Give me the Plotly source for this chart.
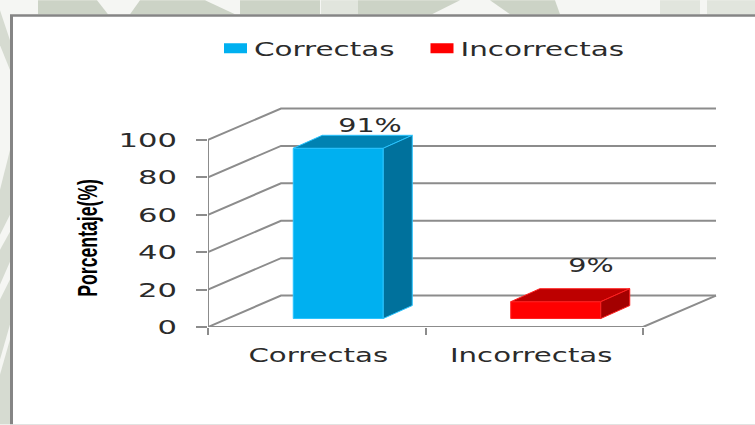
import plotly.graph_objects as go

# Chart data
categories = ['Correctas', 'Incorrectas']
values = [91, 9]
labels = ['91%', '9%']
bar_colors = ['#00b0f0', '#ff0000']
top_colors = ['#0082b2', '#bd0000']
side_colors = ['#00719c', '#a30000']
edge_colors = ['#29c4ff', '#ff2020']
y_ticks = [0, 20, 40, 60, 80, 100]
bar_slots = [0.5, 1.5]
x_label_pos = [0.507, 1.486]
x_bounds = [0, 1, 2]

# Fake 3D geometry, in axis units
W, H = 755, 425
L, R, T, B = 208, 718, 107, 327.5
X_UNIT = 217.5
Y_UNIT = 1.875
DEPTH_X = 73 / X_UNIT
DEPTH_Y = 31.5 / Y_UNIT
BAR_WIDTH = 90 / X_UNIT
BAR_SHIFT = 21.5 / X_UNIT
BAR_LIFT = 8.5 / Y_UNIT
SIDE_X = 29 / X_UNIT
SIDE_Y = 13 / Y_UNIT
WALL = '#8c8c8c'
TEXT = '#2b2b2b'

# Watermark patches behind the chart frame, in pixels
light_patches = [
    [(660, 0), (700, 0), (700, 14), (660, 14)],
    [(707, 0), (755, 0), (755, 14), (707, 14)],
    [(321, 0), (358, 0), (358, 14), (321, 14)],
]
green_patches = [
    [(38, 0), (97, 0), (108, 14), (38, 14)],
    [(140, 0), (205, 0), (235, 14), (130, 14)],
    [(240, 0), (320, 0), (320, 14), (240, 14)],
    [(358, 0), (460, 0), (432, 14), (358, 14)],
    [(490, 0), (555, 0), (560, 14), (510, 14)],
]
left_patches = [
    [(0, 10), (10, 40), (10, 70), (0, 45)],
    [(0, 190), (10, 150), (10, 215), (0, 235)],
    [(0, 250), (10, 232), (10, 262), (0, 285)],
    [(0, 300), (10, 280), (10, 325), (0, 360)],
    [(0, 375), (10, 340), (10, 425), (0, 425)],
]


# paper coords run over the plot area only, so map through the margins
def poly_px(points, color):
    pts = [((x - L) / (R - L), (B - y) / (B - T)) for x, y in points]
    path = 'M' + 'L'.join(f'{x},{y}' for x, y in pts) + 'Z'
    return dict(type='path', xref='paper', yref='paper', path=path,
                fillcolor=color, line_width=0, layer='below')


fig = go.Figure()

# Walls and floor
wall_x, wall_y = [], []
for v in y_ticks:
    wall_x += [0, DEPTH_X, 2 + DEPTH_X, None]
    wall_y += [v, v + DEPTH_Y, v + DEPTH_Y, None]
wall_x += [0, 2, 2 + DEPTH_X, None, 0, 0]
wall_y += [0, 0, DEPTH_Y, None, 0, y_ticks[-1]]
fig.add_trace(go.Scatter(x=wall_x, y=wall_y, mode='lines', showlegend=False,
                         hoverinfo='skip', line=dict(color=WALL, width=2), zorder=0))

# Bars with their top and side faces
for i, (name, v) in enumerate(zip(categories, values)):
    cx = bar_slots[i] + BAR_SHIFT
    x0, x1 = cx - BAR_WIDTH / 2, cx + BAR_WIDTH / 2
    y0, y1 = BAR_LIFT, BAR_LIFT + v
    fig.add_trace(go.Bar(x=[cx], y=[v], base=[BAR_LIFT], width=BAR_WIDTH, showlegend=False,
                         marker=dict(color=bar_colors[i], line=dict(color=edge_colors[i], width=1)),
                         zorder=1))
    fig.add_trace(go.Scatter(x=[x0, x1, x1 + SIDE_X, x0 + SIDE_X, x0],
                             y=[y1, y1, y1 + SIDE_Y, y1 + SIDE_Y, y1],
                             mode='lines', fill='toself', fillcolor=top_colors[i], showlegend=False,
                             hoverinfo='skip', line=dict(color=edge_colors[i], width=1), zorder=1))
    fig.add_trace(go.Scatter(x=[x1, x1 + SIDE_X, x1 + SIDE_X, x1, x1],
                             y=[y0, y0 + SIDE_Y, y1 + SIDE_Y, y1, y0],
                             mode='lines', fill='toself', fillcolor=side_colors[i], showlegend=False,
                             hoverinfo='skip', line=dict(color=edge_colors[i], width=1), zorder=1))

# Data labels
label_x = [s + BAR_SHIFT for s in [0.646, 1.662]]
label_y = [v + BAR_LIFT + dy for v, dy in zip(values, [11.5, 18.5])]
fig.add_trace(go.Scatter(x=label_x, y=label_y, mode='text', text=labels, showlegend=False,
                         textposition='middle center', hoverinfo='skip',
                         textfont=dict(size=20, color=TEXT), zorder=2))

# Legend entries, thick lines give the wide swatches
for i, name in enumerate(categories):
    fig.add_trace(go.Scatter(x=[None], y=[None], mode='lines', name=name,
                             line=dict(color=bar_colors[i], width=12)))

shapes = [poly_px(p, '#e1e5dd') for p in light_patches]
shapes += [poly_px(p, '#ccd3c6') for p in green_patches]
shapes += [poly_px(p, '#d6dbd1') for p in left_patches]
shapes.append(poly_px([(10, 14), (755, 14), (755, 425), (10, 425)], '#858585'))
shapes.append(poly_px([(13, 16.5), (755, 16.5), (755, 425), (13, 425)], 'white'))

fig.update_layout(
    width=W, height=H,
    margin=dict(l=L, r=W - R, t=T, b=H - B, pad=0),
    paper_bgcolor='#f5f6f3', plot_bgcolor='rgba(0,0,0,0)',
    font=dict(family='DejaVu Sans', size=20, color=TEXT),
    shapes=shapes,
    showlegend=True,
    legend=dict(orientation='h', x=(219 - L) / (R - L), xanchor='left', y=(B - 48) / (B - T), yanchor='middle',
                itemwidth=30, entrywidth=161.5, entrywidthmode='pixels', bgcolor='rgba(0,0,0,0)',
                font=dict(size=20, color=TEXT), itemclick=False, itemdoubleclick=False),
    annotations=[dict(text='<b>Porcentaje(%)</b>', textangle=-90, xref='paper', yref='paper',
                      x=(70 - L) / (R - L), y=(B - 238) / (B - T), showarrow=False,
                      font=dict(family='Liberation Sans', size=28, color='black'))],
)
fig.update_xaxes(range=[0, (R - L) / X_UNIT], tickmode='array', tickvals=x_label_pos, ticktext=categories,
                 ticks='outside', ticklen=10, tickcolor='rgba(0,0,0,0)', showgrid=False, zeroline=False,
                 minor=dict(tickmode='array', tickvals=x_bounds, ticks='outside', ticklen=7,
                            tickwidth=2, tickcolor=WALL, showgrid=False),
                 fixedrange=True)
fig.update_yaxes(range=[0, (B - T) / Y_UNIT], tickmode='array', tickvals=y_ticks, ticks='outside',
                 ticklen=11, tickwidth=2, tickcolor=WALL, ticklabelstandoff=15, showgrid=False,
                 zeroline=False, fixedrange=True)

# The reference text is stretched sideways, so widen the glyphs once drawn
stretch = """
function squeeze(sel, k) {
    document.querySelectorAll(sel).forEach(function (t) {
        t.setAttribute('textLength', t.getComputedTextLength() * k);
        t.setAttribute('lengthAdjust', 'spacingAndGlyphs');
    });
}
document.body.style.margin = '0';
squeeze('.xtick text', 1.46);
squeeze('.ytick text', 1.53);
squeeze('.textpoint text', 1.43);
squeeze('.legendtext', 1.47);
squeeze('.annotation-text', 0.63);
document.querySelectorAll('.legendtext').forEach(function (t) {
    t.setAttribute('x', parseFloat(t.getAttribute('x')) - 5);
});
document.querySelectorAll('.legendlines path').forEach(function (p) {
    p.style.strokeDasharray = '23 60';
});
"""
fig.write_html("out.html", post_script=stretch, config={'displayModeBar': False})
